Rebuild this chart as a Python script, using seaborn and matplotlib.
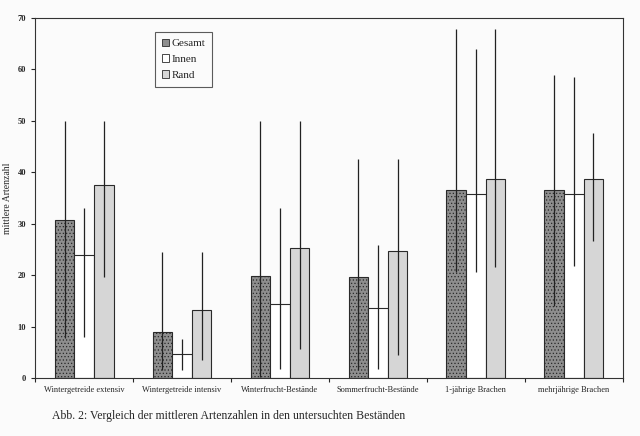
import numpy as np
import pandas as pd
import matplotlib
matplotlib.use("Agg")
import matplotlib.pyplot as plt
import seaborn as sns

# values
categories = ["Wintergetreide extensiv", "Wintergetreide intensiv", "Winterfrucht-Bestände",
              "Sommerfrucht-Bestände", "1-jährige Brachen", "mehrjährige Brachen"]
series = ["Gesamt", "Innen", "Rand"]

gesamt_mean = [30.8, 9.0, 19.8, 19.6, 36.5, 36.5]
innen_mean = [24.0, 4.7, 14.3, 13.6, 35.7, 35.7]
rand_mean = [37.5, 13.2, 25.3, 24.6, 38.6, 38.7]

gesamt_min = [7.8, 1.5, 0.2, 1.5, 20.7, 14.0]
gesamt_max = [50.0, 24.5, 50.0, 42.6, 67.9, 58.8]
innen_min = [8.0, 1.5, 1.8, 1.7, 20.7, 21.8]
innen_max = [33.0, 7.5, 33.0, 25.9, 64.0, 58.6]
rand_min = [19.7, 3.5, 5.7, 4.5, 21.6, 26.7]
rand_max = [50.0, 24.5, 50.0, 42.6, 67.9, 47.6]

df = pd.DataFrame({
    "Bestand": categories * 3,
    "Reihe": [s for s in series for _ in categories],
    "Wert": gesamt_mean + innen_mean + rand_mean,
    "lo": gesamt_min + innen_min + rand_min,
    "hi": gesamt_max + innen_max + rand_max,
})

sns.set_style("ticks")
plt.rcParams["font.family"] = ["Liberation Serif", "DejaVu Serif"]
plt.rcParams["hatch.color"] = "#5a5a5a"
plt.rcParams["hatch.linewidth"] = 0.5

bg = "#fbfbfb"
fig = plt.figure(figsize=(6.4, 4.36), dpi=100, facecolor=bg)
ax = fig.add_axes([0.055, 0.133, 0.918, 0.826])
ax.set_facecolor(bg)

palette = {"Gesamt": "#8e8e8e", "Innen": "#ffffff", "Rand": "#d6d6d6"}
sns.barplot(data=df, x="Bestand", y="Wert", hue="Reihe", hue_order=series,
            order=categories, palette=palette, width=0.6, gap=0,
            edgecolor="#2a2a2a", linewidth=0.8, errorbar=None, ax=ax)

# stipple texture on the dark bars, like the scan
for bar in ax.patches[:len(categories)]:
    bar.set_hatch(".....")

# range lines (min-max) through the bar centres
for i, s in enumerate(series):
    sub = df[df["Reihe"] == s].set_index("Bestand").loc[categories]
    bars = ax.patches[i * len(categories):(i + 1) * len(categories)]
    xs = [b.get_x() + b.get_width() / 2 for b in bars]
    ax.vlines(xs, sub["lo"], sub["hi"], color="#222222", linewidth=0.9)

ax.set_ylim(0, 70)
ax.set_xlim(-0.5, len(categories) - 0.5)
ax.set_yticks(range(0, 71, 10))
ax.tick_params(axis="y", labelsize=6, length=3, width=0.8, direction="out")
for t in ax.get_yticklabels():
    t.set_fontweight("bold")
ax.tick_params(axis="x", labelsize=6, length=0, pad=6)
ax.set_xticks(np.arange(-0.5, len(categories), 1.0), minor=True)
ax.tick_params(axis="x", which="minor", length=3, width=0.8)
ax.set_xlabel("")
ax.set_ylabel("mittlere Artenzahl", fontsize=7, labelpad=4)
for sp in ax.spines.values():
    sp.set_visible(True)
    sp.set_linewidth(0.8)
    sp.set_color("#333333")

leg = ax.legend(loc="upper left", bbox_to_anchor=(0.204, 0.961), fontsize=8,
                frameon=True, fancybox=False, edgecolor="#333333",
                handlelength=0.7, handleheight=0.7, handletextpad=0.2,
                labelspacing=0.55, borderpad=0.6, borderaxespad=0)
leg.get_frame().set_linewidth(0.8)
leg.get_frame().set_facecolor(bg)
for h in leg.legend_handles:
    h.set_linewidth(0.6)

fig.text(0.081, 0.04, "Abb. 2: Vergleich der mittleren Artenzahlen in den untersuchten Beständen",
         fontsize=8.5)

fig.savefig("out.png", dpi=100, facecolor=fig.get_facecolor())
